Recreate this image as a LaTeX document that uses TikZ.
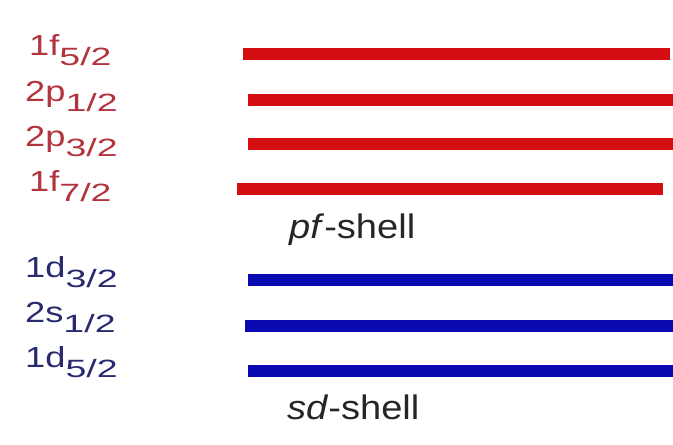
\documentclass[tikz,border=0pt]{standalone}
\usepackage{fontspec}
\setmainfont{Liberation Sans}
\definecolor{linered}{RGB}{212,14,16}
\definecolor{lineblue}{RGB}{10,10,178}
\definecolor{txtred}{RGB}{178,52,62}
\definecolor{txtblue}{RGB}{40,42,112}
\definecolor{txtgray}{RGB}{38,38,38}
\newcommand{\lvl}[2]{\scalebox{1.25}[1]{\fontsize{29}{31}\selectfont #1}\raisebox{-10pt}{\scalebox{1.5}[1]{\fontsize{25}{27}\selectfont #2}}}
\begin{document}
\begin{tikzpicture}[x=1pt,y=-1pt,
  redlvl/.style={draw=linered,line width=12pt},
  bluelvl/.style={draw=lineblue,line width=12pt},
  lbl/.style={anchor=base west,inner sep=0pt},
  shelltxt/.style={anchor=base west,inner sep=0pt,text=txtgray}]
\useasboundingbox[fill=white] (0,0) rectangle (673,445);
% red levels
\coordinate (r1a) at (243,53.5); \coordinate (r1b) at (670,53.5);
\coordinate (r2a) at (248,99.5); \coordinate (r2b) at (673,99.5);
\coordinate (r3a) at (248,144); \coordinate (r3b) at (673,144);
\coordinate (r4a) at (237,189); \coordinate (r4b) at (663,189);
\draw[redlvl] (r1a) -- (r1b);
\draw[redlvl] (r2a) -- (r2b);
\draw[redlvl] (r3a) -- (r3b);
\draw[redlvl] (r4a) -- (r4b);
% blue levels
\coordinate (b1a) at (248,279.5); \coordinate (b1b) at (673,279.5);
\coordinate (b2a) at (245,325.5); \coordinate (b2b) at (673,325.5);
\coordinate (b3a) at (248,371); \coordinate (b3b) at (673,371);
\draw[bluelvl] (b1a) -- (b1b);
\draw[bluelvl] (b2a) -- (b2b);
\draw[bluelvl] (b3a) -- (b3b);
% labels
\node[lbl,text=txtred] (l1) at (29,55) {\lvl{1f}{5/2}};
\node[lbl,text=txtred] (l2) at (25,101) {\lvl{2p}{1/2}};
\node[lbl,text=txtred] (l3) at (25,146) {\lvl{2p}{3/2}};
\node[lbl,text=txtred] (l4) at (29,191) {\lvl{1f}{7/2}};
\node[lbl,text=txtblue] (l5) at (25,277) {\lvl{1d}{3/2}};
\node[lbl,text=txtblue] (l6) at (25,322) {\lvl{2s}{1/2}};
\node[lbl,text=txtblue] (l7) at (25,367) {\lvl{1d}{5/2}};
\node[shelltxt] (pf) at (289,238) {\scalebox{1.12}[1]{\fontsize{34}{38}\selectfont\textit{pf}-shell}};
\node[shelltxt] (sd) at (287,419) {\scalebox{1.12}[1]{\fontsize{34}{38}\selectfont\textit{sd}-shell}};
\end{tikzpicture}
\end{document}
